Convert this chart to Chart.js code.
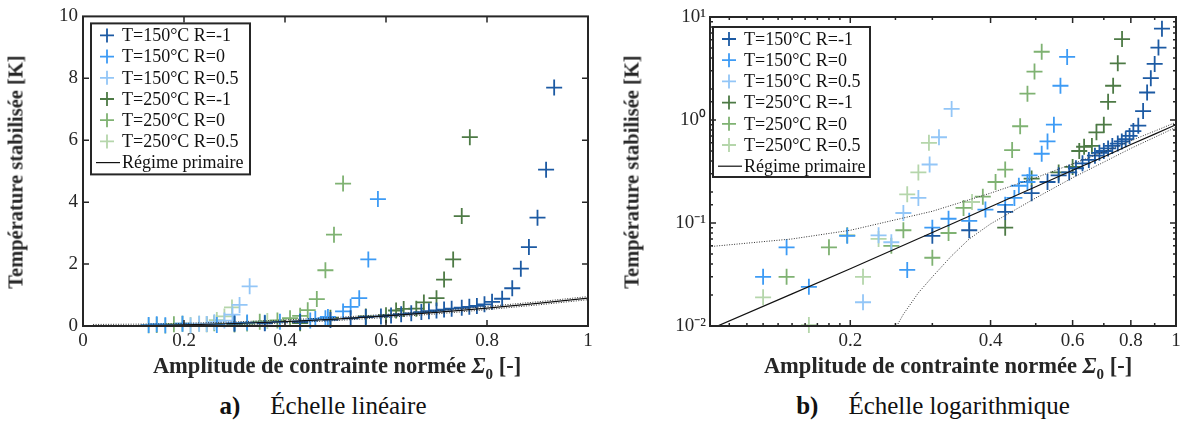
<!DOCTYPE html>
<html><head><meta charset="utf-8">
<script src="https://cdn.jsdelivr.net/npm/chart.js@4.4.1/dist/chart.umd.min.js"></script>
<style>
html,body{margin:0;padding:0;background:#fff;}
body{width:1193px;height:425px;overflow:hidden;position:relative;font-family:"Liberation Serif","Times New Roman",serif;color:#262626;}
canvas{position:absolute;top:0;}
#c1{left:0;} #c2{left:600px;}
.yt{position:absolute;font-weight:bold;font-size:20.5px;white-space:nowrap;transform:translate(-50%,-50%) rotate(-90deg);}
.xt{position:absolute;font-weight:bold;font-size:22.5px;white-space:nowrap;transform:translate(-50%,-50%);}
.xt sub{font-size:15px;vertical-align:-6px;}
.cap{position:absolute;font-size:25px;white-space:nowrap;transform:translate(-50%,-50%);color:#111;}
.cap b{margin-right:30px;}
</style></head>
<body>
<canvas id="c1" width="600" height="356"></canvas>
<canvas id="c2" width="593" height="356"></canvas>
<div class="yt" style="left:16px;top:172px;">Température stabilisée [K]</div>
<div class="yt" style="left:632px;top:172px;">Température stabilisée [K]</div>
<div class="xt" style="left:337px;top:368px;">Amplitude de contrainte normée <i>Σ</i><sub>0</sub> [-]</div>
<div class="xt" style="left:948px;top:368px;">Amplitude de contrainte normée <i>Σ</i><sub>0</sub> [-]</div>
<div class="cap" style="left:323px;top:406px;"><b>a)</b>Échelle linéaire</div>
<div class="cap" style="left:933px;top:406px;"><b>b)</b>Échelle logarithmique</div>
<script>
// ---------- data ----------
const seriesLabels = ['T=150°C R=-1','T=150°C R=0','T=150°C R=0.5','T=250°C R=-1','T=250°C R=0','T=250°C R=0.5'];
const seriesColors = ['#1c5aa3','#3d9bf5','#93c6f7','#4d7a45','#7fb272','#b5d6ab'];

const x150Rm1 = [0.30,0.36,0.43,0.49,0.53,0.56,0.59,0.61,0.63,0.65,0.67,0.685,0.70,0.715,0.73,0.75,0.765,0.78,0.795,0.81,0.83,0.85,0.867,0.883,0.90,0.917,0.933];
const y150Rm1 = [0.075,0.085,0.128,0.195,0.25,0.29,0.31,0.34,0.38,0.41,0.45,0.48,0.50,0.53,0.56,0.59,0.62,0.65,0.70,0.78,0.88,1.22,1.85,2.55,3.5,5.05,7.7];

const x150R0 = [0.13,0.146,0.163,0.197,0.265,0.30,0.325,0.36,0.39,0.43,0.45,0.46,0.48,0.485,0.515,0.53,0.547,0.565,0.584];
const y150R0 = [0.030,0.058,0.024,0.075,0.035,0.09,0.11,0.105,0.135,0.15,0.175,0.23,0.25,0.29,0.47,0.62,0.9,2.15,4.1];

const x150R05 = [0.213,0.23,0.245,0.26,0.28,0.296,0.31,0.33];
const y150R05 = [0.017,0.076,0.065,0.125,0.175,0.37,0.68,1.28];

const x250Rm1 = [0.43,0.49,0.56,0.60,0.62,0.635,0.66,0.675,0.70,0.715,0.733,0.75,0.766];
const y250Rm1 = [0.09,0.27,0.31,0.35,0.50,0.55,0.56,0.76,0.90,1.5,2.15,3.55,6.1];

const x250R0 = [0.146,0.18,0.197,0.245,0.26,0.30,0.325,0.35,0.385,0.41,0.43,0.445,0.463,0.48,0.497,0.515];
const y250R0 = [0.030,0.058,0.076,0.06,0.085,0.046,0.08,0.14,0.18,0.25,0.33,0.51,0.87,1.8,2.95,4.6];

const x250R05 = [0.13,0.163,0.213,0.23,0.265,0.28,0.295,0.365];
const y250R05 = [0.019,0.0102,0.030,0.07,0.19,0.31,0.6,0.16];

const regimeLabel = 'Régime primaire';
const regimeX = [0.02,0.1,0.15,0.2,0.3,0.4,0.5,0.6,0.7,0.8,0.9,1.0];
const regimeY = [0.0004,0.0093,0.0205,0.036,0.081,0.144,0.225,0.325,0.44,0.578,0.73,0.9];
const upperX = [0.02,0.1,0.15,0.2,0.3,0.4,0.5,0.6,0.7,0.8,0.9,1.0];
const upperY = [0.05,0.059,0.07,0.085,0.13,0.195,0.275,0.375,0.49,0.63,0.78,0.95];
const lowerX = [0.25,0.26,0.28,0.3,0.33,0.36,0.4,0.5,0.6,0.7,0.8,0.9,1.0];
const lowerY = [0.0095,0.013,0.021,0.03,0.048,0.07,0.098,0.175,0.275,0.39,0.53,0.68,0.85];

const linXTicks = [0,0.2,0.4,0.6,0.8,1];
const linYTicks = [0,2,4,6,8,10];
const logXLabels = [0.2,0.4,0.6,0.8,1];
const logYLabels = ['10⁻²','10⁻¹','10⁰','10¹'];
const logYValues = [0.01,0.1,1,10];

// ---------- helpers ----------
const FONT = '"Liberation Serif","Times New Roman",serif';
const INK = '#262626';
const near = (a,b)=>Math.abs(a-b) < 1e-6*Math.max(1,Math.abs(b));
function pts(xs, ys){ return xs.map((x,i)=>({x:x, y:ys[i]})); }

function makeDatasets(){
  const xs = [x150Rm1,x150R0,x150R05,x250Rm1,x250R0,x250R05];
  const ys = [y150Rm1,y150R0,y150R05,y250Rm1,y250R0,y250R05];
  const ds = seriesLabels.map((lab,i)=>({
    label: lab, data: pts(xs[i], ys[i]), showLine:false,
    pointStyle:'cross', pointRadius:8, pointHoverRadius:8,
    borderColor: seriesColors[i], backgroundColor: seriesColors[i],
    pointBorderWidth:1.8, borderWidth:1.8, clip:false, inLegend:true, order:2
  }));
  ds.push({label: regimeLabel, data: pts(regimeX, regimeY), showLine:true, pointRadius:0,
    borderColor:'#111', borderWidth:1.2, inLegend:true, order:1});
  ds.push({label:'upper', data: pts(upperX, upperY), showLine:true, pointRadius:0,
    borderColor:'#333', borderWidth:1, borderDash:[1,1.5], inLegend:false, order:1});
  ds.push({label:'lower', data: pts(lowerX, lowerY), showLine:true, pointRadius:0,
    borderColor:'#333', borderWidth:1, borderDash:[1,1.5], inLegend:false, order:1});
  return ds;
}

const boxLegend = {
  id:'boxLegend',
  afterDraw(chart, args, o){
    const {ctx, chartArea:a} = chart;
    const items = chart.data.datasets.filter(d=>d.inLegend);
    const x0 = a.left + o.dx, y0 = a.top + o.dy;
    ctx.save();
    ctx.fillStyle = '#fff'; ctx.fillRect(x0, y0, o.w, o.h);
    ctx.lineWidth = 2; ctx.strokeStyle = INK; ctx.strokeRect(x0, y0, o.w, o.h);
    ctx.font = '18px ' + FONT; ctx.textBaseline = 'middle'; ctx.textAlign = 'left';
    items.forEach((d,i)=>{
      const cy = y0 + o.first + i*o.step;
      const mx = x0 + 16;
      ctx.strokeStyle = d.borderColor;
      ctx.beginPath();
      if (d.showLine){ ctx.lineWidth = 1.2; ctx.moveTo(x0+5, cy); ctx.lineTo(x0+29, cy); }
      else { ctx.lineWidth = 1.8; ctx.moveTo(mx-7, cy); ctx.lineTo(mx+7, cy); ctx.moveTo(mx, cy-7); ctx.lineTo(mx, cy+7); }
      ctx.stroke();
      ctx.fillStyle = '#111';
      ctx.fillText(d.label, x0+31, cy+1);
    });
    ctx.restore();
  }
};

const frame = {
  id:'frame',
  afterDraw(chart, args, o){
    const {ctx, chartArea:a, scales} = chart;
    const sx = scales.x, sy = scales.y;
    ctx.save();
    ctx.strokeStyle = INK; ctx.lineWidth = 1.5;
    ctx.beginPath();
    sx.ticks.forEach(t=>{
      const p = sx.getPixelForValue(t.value);
      if (p <= a.left+1 || p >= a.right-1) return;
      const L = o.majorX(t.value) ? 6 : 3;
      ctx.moveTo(p, a.bottom); ctx.lineTo(p, a.bottom-L);
      ctx.moveTo(p, a.top); ctx.lineTo(p, a.top+L);
    });
    sy.ticks.forEach(t=>{
      const p = sy.getPixelForValue(t.value);
      if (p <= a.top+1 || p >= a.bottom-1) return;
      const L = o.majorY(t.value) ? 6 : 3;
      ctx.moveTo(a.left, p); ctx.lineTo(a.left+L, p);
      ctx.moveTo(a.right, p); ctx.lineTo(a.right-L, p);
    });
    ctx.stroke();
    ctx.lineWidth = 2;
    ctx.strokeRect(a.left, a.top, a.right-a.left, a.bottom-a.top);
    ctx.restore();
  }
};

const tickFont = {family: FONT, size: 19};
const noGrid = {display:false, drawTicks:false};

// ---------- left: linear ----------
new Chart(document.getElementById('c1'), {
  type:'scatter',
  data:{datasets: makeDatasets()},
  plugins:[boxLegend, frame],
  options:{
    responsive:false, animation:false, devicePixelRatio:1,
    layout:{padding:{left:0, right:12, top:16, bottom:0}},
    plugins:{legend:{display:false}, tooltip:{enabled:false},
      boxLegend:{dx:8, dy:7, w:159, h:151, first:12, step:21.2},
      frame:{majorX:()=>true, majorY:()=>true}},
    scales:{
      x:{type:'linear', min:0, max:1, grid:noGrid, border:{display:false},
        afterBuildTicks:s=>{ s.ticks = linXTicks.map(v=>({value:v})); },
        ticks:{font:tickFont, color:INK, padding:4, maxRotation:0, autoSkip:false, callback:v=>String(v)},
        afterFit:s=>{ s.height = 30; }},
      y:{type:'linear', min:0, max:10, grid:noGrid, border:{display:false},
        afterBuildTicks:s=>{ s.ticks = linYTicks.map(v=>({value:v})); },
        ticks:{font:tickFont, color:INK, padding:5, autoSkip:false, callback:v=>String(v)},
        afterFit:s=>{ s.width = 83; }}
    }
  }
});

// ---------- right: logarithmic ----------
new Chart(document.getElementById('c2'), {
  type:'scatter',
  data:{datasets: makeDatasets()},
  plugins:[boxLegend, frame],
  options:{
    responsive:false, animation:false, devicePixelRatio:1,
    layout:{padding:{left:0, right:17, top:17, bottom:0}},
    plugins:{legend:{display:false}, tooltip:{enabled:false},
      boxLegend:{dx:3, dy:10, w:157, h:150, first:12, step:21.2},
      frame:{majorX:v=>logXLabels.some(l=>near(v,l)), majorY:v=>logYValues.some(l=>near(v,l))}},
    scales:{
      x:{type:'logarithmic', min:0.1, max:1, grid:noGrid, border:{display:false},
        ticks:{font:tickFont, color:INK, padding:4, maxRotation:0, autoSkip:false,
          callback:v=>{ const k = logXLabels.findIndex(l=>near(v,l)); return k>=0 ? String(logXLabels[k]) : ''; }},
        afterFit:s=>{ s.height = 30; }},
      y:{type:'logarithmic', min:0.01, max:10, grid:noGrid, border:{display:false},
        ticks:{font:tickFont, color:INK, padding:4, autoSkip:false,
          callback:v=>{ const k = logYValues.findIndex(l=>near(v,l)); return k>=0 ? logYLabels[k] : ''; }},
        afterFit:s=>{ s.width = 110; }}
    }
  }
});
</script>
</body></html>
